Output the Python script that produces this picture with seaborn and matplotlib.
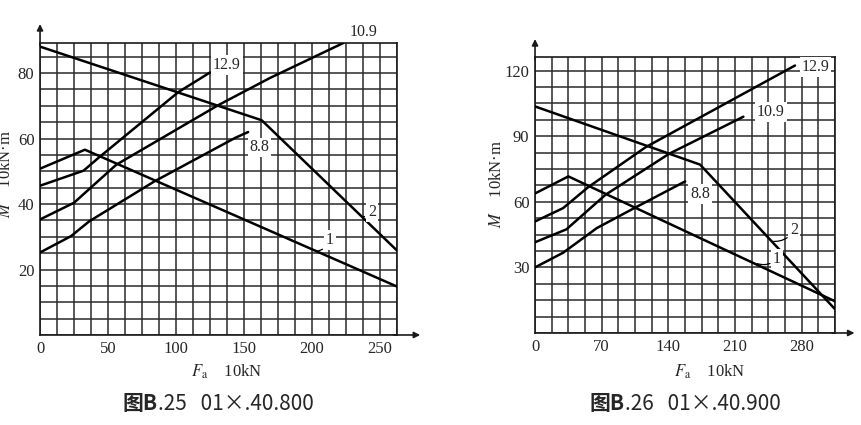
import numpy as np
import pandas as pd
import seaborn as sns
import matplotlib
matplotlib.use("Agg")
import matplotlib.pyplot as plt

# ---- 图B.25  01×.40.800 ----
b25_x1 = [0, 33, 262.5]
b25_y1 = [50.8, 56.6, 14.8]
b25_x2 = [0, 163, 262.5]
b25_y2 = [88.1, 65.6, 25.8]
b25_x129 = [0, 32, 43.5, 101.7, 125]
b25_y129 = [45.6, 50.2, 54.3, 74.2, 80.2]
b25_x109 = [0, 25, 56, 131, 169, 223]
b25_y109 = [35.3, 40.4, 52.0, 70.2, 78.5, 89.2]
b25_x88 = [0, 22.8, 36.1, 84, 143.4, 153]
b25_y88 = [25.2, 30.2, 34.7, 46.9, 60.2, 62.0]

# ---- 图B.26  01×.40.900 ----
b26_x1 = [0, 35, 315]
b26_y1 = [63.8, 71.6, 14.5]
b26_x2 = [0, 173.3, 315]
b26_y2 = [103.6, 77.0, 10.9]
b26_x129 = [0, 29.5, 55.6, 116.3, 273]
b26_y129 = [51.0, 57.1, 66.6, 85.0, 122.3]
b26_x109 = [0, 33, 74, 140.6, 218.8]
b26_y109 = [41.5, 47.4, 63.2, 81.9, 98.9]
b26_x88 = [0, 29.5, 65, 104.2, 157.6]
b26_y88 = [30.0, 36.7, 48.0, 57.1, 69.3]

b25_xticks = [0, 50, 100, 150, 200, 250]
b25_yticks = [20, 40, 60, 80]
b26_xticks = [0, 70, 140, 210, 280]
b26_yticks = [30, 60, 90, 120]


def make_df(curves):
    rows = []
    for name, xs, ys in curves:
        for x, y in zip(xs, ys):
            rows.append({"curve": name, "F": x, "M": y})
    return pd.DataFrame(rows)


df25 = make_df([("1", b25_x1, b25_y1), ("2", b25_x2, b25_y2),
                ("12.9", b25_x129, b25_y129), ("10.9", b25_x109, b25_y109),
                ("8.8", b25_x88, b25_y88)])
df26 = make_df([("1", b26_x1, b26_y1), ("2", b26_x2, b26_y2),
                ("12.9", b26_x129, b26_y129), ("10.9", b26_x109, b26_y109),
                ("8.8", b26_x88, b26_y88)])

sns.set_theme(style="white")
plt.rcParams["font.family"] = ["Liberation Serif", "DejaVu Serif"]
plt.rcParams["mathtext.fontset"] = "stix"

serif = ["Liberation Serif", "DejaVu Serif"]
cjk = ["Noto Sans CJK SC", "DejaVu Sans"]

fig = plt.figure(figsize=(8.61, 4.25), dpi=100)
ax1 = fig.add_axes([0.0465, 0.2118, 0.4146, 0.687])
ax2 = fig.add_axes([0.6214, 0.2165, 0.3484, 0.6494])


def setup(ax, df, xmax, ymax, xstep, ystep, xticks, yticks):
    sns.lineplot(data=df, x="F", y="M", units="curve", estimator=None,
                 sort=False, color="black", lw=1.8, ax=ax, zorder=3)
    ax.set_xlim(0, xmax)
    ax.set_ylim(0, ymax)
    ax.set_xticks(xticks)
    ax.set_yticks(yticks)
    ax.set_xticks(np.arange(0, xmax + 0.01, xstep), minor=True)
    ax.set_yticks(np.arange(0, ymax + 0.01, ystep), minor=True)
    ax.grid(which="both", color="#2a2a2a", lw=1.1)
    ax.tick_params(which="both", length=0, labelsize=12, pad=4)
    for lab in ax.get_xticklabels() + ax.get_yticklabels():
        lab.set_family(serif)
    for sp in ax.spines.values():
        sp.set_color("#1a1a1a")
        sp.set_linewidth(1.2)
    ax.set_xlabel("")
    ax.set_ylabel("")
    # axis arrows
    ax.annotate("", xy=(1.065, 0), xytext=(0.99, 0), xycoords="axes fraction",
                arrowprops=dict(arrowstyle="-|>", color="#1a1a1a", lw=1.2,
                                mutation_scale=9, shrinkA=0, shrinkB=0))
    ax.annotate("", xy=(0, 1.065), xytext=(0, 0.99), xycoords="axes fraction",
                arrowprops=dict(arrowstyle="-|>", color="#1a1a1a", lw=1.2,
                                mutation_scale=9, shrinkA=0, shrinkB=0))


setup(ax1, df25, 262.5, 89.2, 12.5, 5, b25_xticks, b25_yticks)
setup(ax2, df26, 315, 126.2, 17.5, 7.5, b26_xticks, b26_yticks)

box = dict(boxstyle="square,pad=0.12", fc="white", ec="none")
leader = dict(arrowstyle="-", lw=0.9, color="black",
              connectionstyle="arc3,rad=-0.3", shrinkA=1, shrinkB=0)

# curve labels, B.25
ax1.text(127, 82.4, "12.9", fontsize=11.5, va="center", ha="left", bbox=box, zorder=4)
ax1.text(228, 92.6, "10.9", fontsize=11.5, va="center", ha="left", clip_on=False)
ax1.text(154, 57.3, "8.8", fontsize=11.5, va="center", ha="left", bbox=box, zorder=4)
ax1.annotate("1", xy=(203.5, 25.6), xytext=(210, 29), fontsize=11.5, va="center",
             ha="left", bbox=box, zorder=4, arrowprops=leader)
ax1.annotate("2", xy=(236.5, 36.2), xytext=(241, 37.5), fontsize=11.5, va="center",
             ha="left", bbox=box, zorder=4, arrowprops=leader)

# curve labels, B.26
ax2.text(280, 121.6, "12.9", fontsize=11.5, va="center", ha="left", bbox=box, zorder=4)
ax2.text(233, 101, "10.9", fontsize=11.5, va="center", ha="left", bbox=box, zorder=4)
ax2.text(163, 63.4, "8.8", fontsize=11.5, va="center", ha="left", bbox=box, zorder=4)
ax2.annotate("1", xy=(233.5, 31.7), xytext=(250, 34), fontsize=11.5, va="center",
             ha="left", bbox=box, zorder=4, arrowprops=leader)
ax2.annotate("2", xy=(248.6, 41.9), xytext=(268, 47), fontsize=11.5, va="center",
             ha="left", bbox=box, zorder=4, arrowprops=leader)

# axis titles
for ax, xl, yl in [(ax1, (0.524, -0.095), (-0.072, 0.55)),
                   (ax2, (0.583, -0.108), (-0.1, 0.54))]:
    ax.set_xlabel(r"$F_\mathrm{a}$    10kN", fontsize=12)
    ax.xaxis.set_label_coords(*xl)
    ax.set_ylabel(r"$M$    10kN·m", fontsize=12)
    ax.yaxis.set_label_coords(*yl)

# captions
fig.text(0.1835, 0.05, "图B", fontsize=15, weight="bold", family=cjk,
         ha="right", va="center")
fig.text(0.1835, 0.05, ".25   01×.40.800", fontsize=15, family=cjk,
         ha="left", va="center")
fig.text(0.726, 0.05, "图B", fontsize=15, weight="bold", family=cjk,
         ha="right", va="center")
fig.text(0.726, 0.05, ".26   01×.40.900", fontsize=15, family=cjk,
         ha="left", va="center")

fig.savefig("out.png", dpi=100, facecolor="white")
